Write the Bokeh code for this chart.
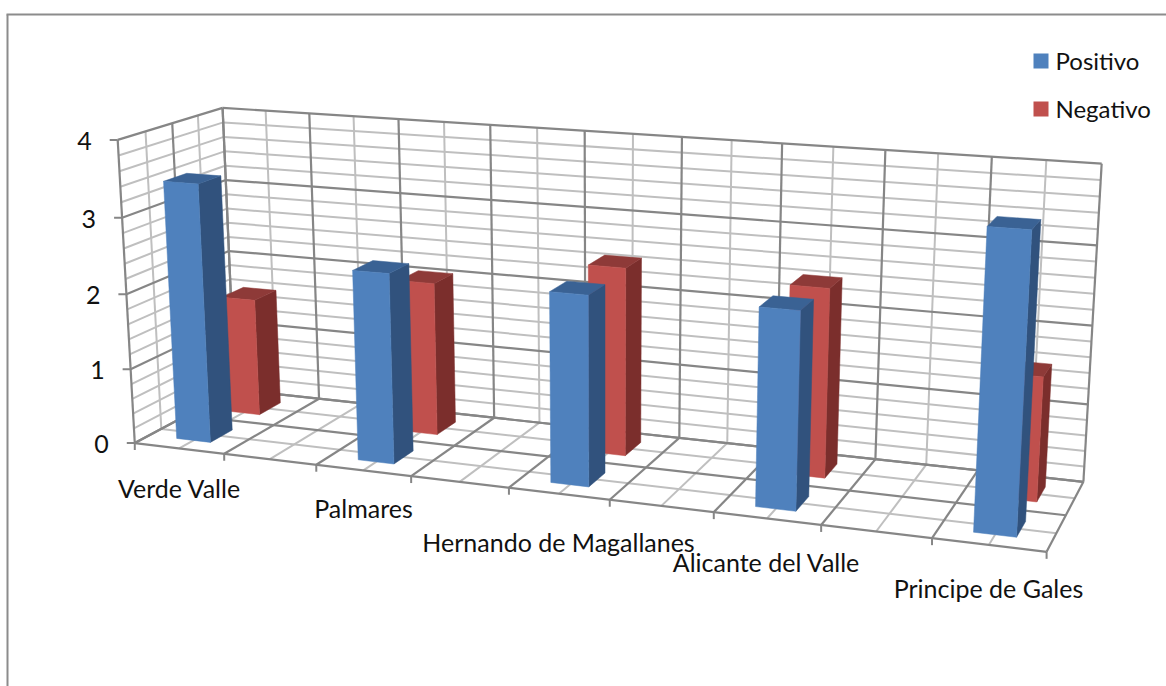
import numpy as np
from bokeh.plotting import figure
from bokeh.models import Range1d
from bokeh.core.properties import value
from bokeh.embed import file_html
from bokeh.resources import INLINE

categories = ["Verde Valle", "Palmares", "Hernando de Magallanes", "Alicante del Valle", "Principe de Gales"]
positivo = [3.43, 2.48, 2.43, 2.47, 3.63]
negativo = [1.6, 2.05, 2.47, 2.43, 1.57]
series_names = ["Positivo", "Negativo"]
y_ticks = [0, 1, 2, 3, 4]

BLUE = ("#4F81BD", "#31527D", "#3A6294")
RED = ("#C0504D", "#7B2E2C", "#8E3A38")
DARK, LIGHT = "#868686", "#BFBFBF"
FONT = "Lato"
FS = "25px"
FS_LEG = "24px"

# calibration of the 3D box: (u, d, v) -> page pixel
calib = [
    ((0, 0, 0), (134, 441)), ((0, 0, 4), (118, 139)), ((0, 4, 0), (235, 390)), ((0, 4, 4), (221, 108)),
    ((9, 4, 4), (1101, 163)), ((9, 4, 0), (1083, 480)), ((9, 0, 0), (1046, 550)),
    ((1, 0, 0), (224, 453)), ((2, 0, 0), (317, 465)), ((4, 0, 0), (508, 488)), ((6, 0, 0), (713, 513)),
    ((8, 0, 0), (931, 540)), ((2, 4, 4), (398, 119)), ((4, 4, 4), (585, 131)), ((6, 4, 4), (781, 143)),
    ((8, 4, 4), (992, 156)), ((0, 0, 2), (125, 292)), ((9, 4, 2), (1092, 324)), ((0, 4, 2), (228, 250)),
    ((0, 2, 4), (172, 123)),
]
A = []
for (u, d, v), (x, y) in calib:
    A.append([u, d, v, 1, 0, 0, 0, 0, -x * u, -x * d, -x * v, -x])
    A.append([0, 0, 0, 0, u, d, v, 1, -y * u, -y * d, -y * v, -y])
M = np.linalg.svd(np.array(A, float))[2][-1].reshape(3, 4)


def pr(u, d, v):
    q = M @ np.array([u, d, v, 1.0])
    return q[0] / q[2], q[1] / q[2]


p = figure(width=1166, height=686, output_backend="svg", toolbar_location=None,
           x_range=Range1d(0, 1166), y_range=Range1d(686, 0), min_border=0,
           outline_line_color=None, background_fill_color="white", border_fill_color="white")
p.axis.visible = False
p.grid.visible = False


def seg(a, b, color, w=2.0):
    x0, y0 = a
    x1, y1 = b
    p.line([x0, x1], [y0, y1], line_color=color, line_width=w)


# chart border
p.line([7, 7], [686, 14], line_color="#8C8C8C", line_width=2)
p.line([6, 1166], [14, 14], line_color="#8C8C8C", line_width=2)

# grid: light first, dark on top
for dark in (False, True):
    col = DARK if dark else LIGHT
    w = 2.2 if dark else 2.0
    for k in range(0, 21):
        vv = k * 0.2
        if (k % 5 == 0) == dark:
            seg(pr(0, 0, vv), pr(0, 4, vv), col, w)
            seg(pr(0, 4, vv), pr(9, 4, vv), col, w)
    for k in range(0, 19):
        uu = k * 0.5
        if (k % 2 == 0) == dark:
            seg(pr(uu, 4, 0), pr(uu, 4, 4), col, w)
            seg(pr(uu, 0, 0), pr(uu, 4, 0), col, w)
    for dd in range(0, 5):
        if (dd % 2 == 0) == dark:
            seg(pr(0, dd, 0), pr(0, dd, 4), col, w)
            seg(pr(0, dd, 0), pr(9, dd, 0), col, w)

# axis ticks and labels
for t in y_ticks:
    x, y = pr(0, 0, t)
    seg((x - 8, y), (x, y), DARK)
    p.text([x - 26], [y + 1], text=[str(t)], text_align="right", text_baseline="middle",
           text_font=value(FONT), text_font_size=FS, text_color="#111111")
for k in range(0, 10):
    x, y = pr(k, 0, 0)
    seg((x, y), (x, y + 7), DARK)


def bar(c, d0, d1, val, cols):
    hw = 0.19
    u0, u1 = c - hw, c + hw
    # right side
    q = [pr(u1, d0, 0), pr(u1, d1, 0), pr(u1, d1, val), pr(u1, d0, val)]
    p.patch([a[0] for a in q], [a[1] for a in q], fill_color=cols[1], line_color=cols[1], line_width=0.5)
    # top
    q = [pr(u0, d0, val), pr(u1, d0, val), pr(u1, d1, val), pr(u0, d1, val)]
    p.patch([a[0] for a in q], [a[1] for a in q], fill_color=cols[2], line_color=cols[2], line_width=0.5)
    # front
    q = [pr(u0, d0, 0), pr(u1, d0, 0), pr(u1, d0, val), pr(u0, d0, val)]
    p.patch([a[0] for a in q], [a[1] for a in q], fill_color=cols[0], line_color=cols[0], line_width=0.5)


for i, name in enumerate(categories):
    c = 0.5 + 2 * i
    bar(c, 2.55, 3.45, negativo[i], RED)
    bar(c, 0.55, 1.42, positivo[i], BLUE)

# category labels
lab_x = [179, 363, 558, 766, 988]
lab_y = [487, 507, 541, 561, 587]
p.text(lab_x, lab_y, text=categories, text_align="center", text_baseline="middle",
       text_font=value(FONT), text_font_size=FS, text_color="#111111")

# legend
p.quad(left=[1033, 1033], right=[1048, 1048], top=[53, 101], bottom=[68, 116],
       fill_color=[BLUE[0], RED[0]], line_color=None)
p.text([1055, 1055], [60, 108], text=series_names, text_align="left", text_baseline="middle",
       text_font=value(FONT), text_font_size=FS_LEG, text_color="#111111")

open("out.html", "w").write(file_html(p, INLINE))
